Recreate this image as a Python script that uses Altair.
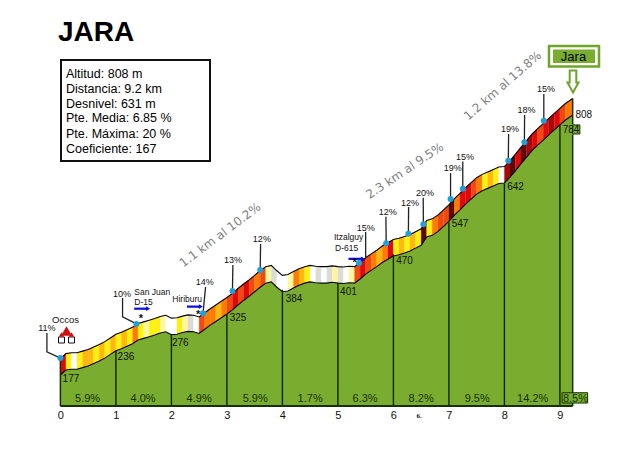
import altair as alt
import pandas as pd

# Altitude (m) at each 100 m, read from the profile
alt_km0 = [177, 189, 191, 191, 195, 199, 205, 211, 218, 227]
alt_km1 = [236, 241, 247, 253, 262, 266, 270, 274, 279, 282]
alt_km2 = [275, 276, 280, 283, 282, 278, 288, 298, 307, 316]
alt_km3 = [325, 335, 347, 358, 368, 379, 390, 400, 403, 390]
alt_km4 = [379, 381, 388, 395, 400, 403, 401, 400, 400, 402]
alt_km5 = [400, 399, 401, 400, 410, 422, 431, 440, 450, 458]
alt_km6 = [466, 469, 473, 478, 485, 492, 512, 516, 525, 537]
alt_km7 = [550, 565, 578, 592, 604, 616, 624, 630, 636, 642]
alt_km8 = [643, 657, 673, 690, 706, 722, 735, 747, 760, 772]
alt_km9 = [784, 796, 808]
altitudes = alt_km0 + alt_km1 + alt_km2 + alt_km3 + alt_km4 + alt_km5 + alt_km6 + alt_km7 + alt_km8 + alt_km9
distances = [round(i / 10, 1) for i in range(92)] + [9.23]

# Gradient colour class of each 100 m segment
seg_km0 = "E Y W Y L L Y L Y L".split()
seg_km1 = "Y L Y O Y P Y Y P W".split()
seg_km2 = "W Y P G W R O O L O".split()
seg_km3 = "R E R E R O R P G W".split()
seg_km4 = "W P O L Y W G W G P".split()
seg_km5 = "G W P R E R O L O E".split()
seg_km6 = "Y L Y L Y M Y O R R".split()
seg_km7 = "M O E E R O Y L Y W".split()
seg_km8 = "D M E M D E R E D E".split()
seg_km9 = "R O".split()
segments = seg_km0 + seg_km1 + seg_km2 + seg_km3 + seg_km4 + seg_km5 + seg_km6 + seg_km7 + seg_km8 + seg_km9
palette = {"W": "#ffffff", "G": "#dcdcd6", "P": "#fff6a0", "Y": "#fff010", "L": "#ffb810",
           "O": "#ff7c00", "R": "#f04a10", "E": "#e00808", "D": "#a80808", "M": "#5c0808"}

BASE = 101.8
BAND = 40
FONT = "Liberation Sans"

km_ticks = [0, 1, 2, 3, 4, 5, 6, 7, 8, 9]
km_alts = [177, 236, 276, 325, 384, 401, 470, 547, 642, 784, 808]
km_label_x = [0.04, 1.03, 2.01, 3.05, 4.06, 5.04, 6.05, 7.05, 8.05, 9.05, 9.28]
km_label_y = [167, 221, 255, 315, 361, 379, 454, 543, 633, 772, 808]

pct_labels = ["5.9%", "4.0%", "4.9%", "5.9%", "1.7%", "6.3%", "8.2%", "9.5%", "14.2%", "8.5%"]
pct_x = [0.49, 1.49, 2.50, 3.51, 4.50, 5.49, 6.50, 7.51, 8.51, 9.28]

pin_text = ["11%", "10%", "14%", "13%", "12%", "15%", "12%", "12%", "20%", "19%", "15%", "19%", "18%", "15%"]
pin_km = [0.0, 1.37, 2.57, 3.10, 3.60, 5.38, 5.87, 6.27, 6.54, 7.03, 7.25, 8.07, 8.36, 8.71]
pin_alt = [218, 301, 327, 381, 432, 449, 497, 520, 543, 604, 629, 697, 742, 794]
elbow_km = [-0.243, 1.12, None, None, None, 5.50, None, None, None, None, None, None, None, None]
elbow_alt = [233, 318, None, None, None, 461, None, None, None, None, None, None, None, None]
top_km = [-0.243, 1.12, 2.616, 3.108, 3.607, 5.50, 5.865, 6.274, 6.537, 7.03, 7.25, 8.076, 8.364, 8.71]
top_alt = [279, 364, 391, 444, 495, 524, 561, 585, 607, 667, 695, 762, 808, 859]
label_km = [-0.243, 1.11, 2.60, 3.108, 3.63, 5.50, 5.90, 6.30, 6.57, 7.07, 7.29, 8.10, 8.40, 8.75]
label_alt = [291, 374, 403, 456, 508, 534, 573, 595, 619, 679, 706, 774, 820, 871]

info_lines = ["Altitud: 808 m", "Distancia: 9.2 km", "Desnivel: 631 m",
              "Pte. Media: 6.85 %", "Pte. Máxima: 20 %", "Coeficiente: 167"]
info_y = [65.5, 80.5, 95.5, 110, 125.5, 141]

slopes = ["1.1 km al 10.2%", "2.3 km al 9.5%", "1.2 km al 13.8%"]
slope_x = [212, 396.7, 494.5]
slope_y = [227, 162.7, 77.7]
slope_angle = [323, 326, 319]

place_text = ["San Juan", "D-15", "Hiriburu", "Itzalguy", "D-615", "Occos"]
place_x = [126.3, 126.3, 164.3, 326, 327, 44]
place_y = [284, 294, 291, 229, 240, 312]
place_size = [8.5, 8.5, 8.5, 8.5, 8.5, 9.5]

arrow_km = [1.33, 2.28, 5.19]
arrow_end = [1.58, 2.53, 5.45]
arrow_alt = [338, 343, 459]
star_km = [1.45, 2.48, 5.30]
star_alt = [314, 323, 450]

xs = alt.Scale(domain=[-0.9441, 10.299], nice=False, zero=False)
ys = alt.Scale(domain=[BASE, 1067.8], nice=False, zero=False)
X = alt.X("km:Q", scale=xs, title=None,
          axis=alt.Axis(values=km_ticks, domain=False, ticks=False, grid=False, labelFontSize=11,
                        labelPadding=3, labelFont=FONT, labelColor="#111", format="d", title=None))
Y = alt.Y("alt:Q", scale=ys, title=None, axis=None, stack=None)

profile = pd.DataFrame({"km": distances, "alt": altitudes})
profile["top"] = profile["alt"] + BAND
profile["base"] = BASE

rows = []
for i, code in enumerate(segments):
    for j in (i, i + 1):
        rows.append({"km": distances[j], "alt": altitudes[j], "top": altitudes[j] + BAND,
                     "seg": i, "c": palette[code]})
band = pd.DataFrame(rows)

green = alt.Chart(profile).mark_area(color="#7aad2f").encode(x=X, y=Y, y2=alt.Y2("base:Q"))
seg_area = alt.Chart(band).mark_area(strokeWidth=0.2).encode(
    x=X, y=alt.Y("top:Q", scale=ys, axis=None, title=None, stack=None), y2=alt.Y2("alt:Q"),
    detail="seg:N", color=alt.Color("c:N", scale=None), stroke=alt.Color("c:N", scale=None))
line_bottom = alt.Chart(profile).mark_line(color="#000", strokeWidth=1.1).encode(x=X, y=Y)
line_top = alt.Chart(profile).mark_line(color="#000", strokeWidth=1.1).encode(
    x=X, y=alt.Y("top:Q", scale=ys, axis=None, title=None, stack=None))

rule_df = pd.DataFrame({"km": km_ticks[1:], "alt": km_alts[1:10], "base": BASE})
km_rules = alt.Chart(rule_df).mark_rule(color="#0c2604", strokeWidth=1.4).encode(x=X, y=Y, y2=alt.Y2("base:Q"))
edge_df = pd.DataFrame({"km": [0, 9.23], "alt": [217, 848], "base": BASE})
edges = alt.Chart(edge_df).mark_rule(color="#16300a", strokeWidth=1.5).encode(x=X, y=Y, y2=alt.Y2("base:Q"))
ground = alt.Chart(pd.DataFrame({"km": [0], "k2": [9.23], "alt": [BASE]})).mark_rule(
    color="#16300a", strokeWidth=2).encode(x=X, x2=alt.X2("k2:Q"), y=Y)

km_label_df = pd.DataFrame({"km": km_label_x, "alt": km_label_y, "t": km_alts})
patch_784 = alt.Chart(pd.DataFrame({"km": [9.14], "k2": [9.24], "alt": [786], "a2": [760]})).mark_rect(
    fill="#7aad2f").encode(x=X, x2=alt.X2("k2:Q"), y=Y, y2=alt.Y2("a2:Q"))
km_boxes = alt.Chart(pd.DataFrame({"km": [9.23, 9.04], "k2": [9.36, 9.50], "alt": [784, 134], "a2": [762, 109]})).mark_rect(
    fill="#7aad2f", stroke="#16300a", strokeWidth=1).encode(x=X, x2=alt.X2("k2:Q"), y=Y, y2=alt.Y2("a2:Q"))
km_text = alt.Chart(km_label_df).mark_text(align="left", baseline="middle", fontSize=10, font=FONT, color="#111").encode(
    x=X, y=Y, text="t:N")
pct_df = pd.DataFrame({"km": pct_x, "alt": 120.0, "t": pct_labels})
pct_text = alt.Chart(pct_df).mark_text(baseline="middle", fontSize=11, font=FONT, color="#16300a").encode(
    x=X, y=Y, text="t:N")

leader_rows = []
for i in range(len(pin_km)):
    leader_rows.append({"km": pin_km[i], "alt": pin_alt[i], "id": i, "o": 0})
    if elbow_km[i] is not None:
        leader_rows.append({"km": elbow_km[i], "alt": elbow_alt[i], "id": i, "o": 1})
    leader_rows.append({"km": top_km[i], "alt": top_alt[i], "id": i, "o": 2})
leaders = alt.Chart(pd.DataFrame(leader_rows)).mark_line(color="#222", strokeWidth=1.3).encode(
    x=alt.X("km:Q", scale=xs, title=None, sort=None), y=Y, detail="id:N", order="o:Q")
pins = alt.Chart(pd.DataFrame({"km": pin_km, "alt": pin_alt})).mark_point(
    filled=True, color="#1f9fdc", size=36, opacity=1).encode(x=X, y=Y)
pin_labels = alt.Chart(pd.DataFrame({"km": label_km, "alt": label_alt, "t": pin_text})).mark_text(
    baseline="middle", fontSize=9, font=FONT, color="#111").encode(x=X, y=Y, text="t:N")

arrow_lines = alt.Chart(pd.DataFrame({"km": arrow_km, "k2": arrow_end, "alt": arrow_alt})).mark_rule(
    color="#0a0ae0", strokeWidth=2.2).encode(x=X, x2=alt.X2("k2:Q"), y=Y)
arrow_heads = alt.Chart(pd.DataFrame({"km": arrow_end, "alt": arrow_alt})).mark_point(
    shape="triangle-right", filled=True, color="#0a0ae0", size=22, opacity=1).encode(x=X, y=Y)
stars = alt.Chart(pd.DataFrame({"km": star_km, "alt": star_alt, "t": ["*"] * 3})).mark_text(
    fontSize=11, font=FONT, fontWeight="bold", baseline="middle", color="#111").encode(x=X, y=Y, text="t:N")

layers = [green, seg_area, line_bottom, line_top, km_rules, edges, ground, patch_784, km_boxes, km_text, pct_text,
          leaders, pins, pin_labels, arrow_lines, arrow_heads, stars]


def tx(text, x, y, size, **kw):
    return alt.Chart(pd.DataFrame({"t": [text]})).mark_text(
        align=kw.pop("align", "left"), baseline="middle", fontSize=size, font=kw.pop("font", FONT),
        color=kw.pop("color", "#111"), **kw).encode(x=alt.value(x), y=alt.value(y), text="t:N")


def box(x, x2, y, y2, **kw):
    return alt.Chart(pd.DataFrame({"a": [0]})).mark_rect(**kw).encode(
        x=alt.value(x), x2=alt.value(x2), y=alt.value(y), y2=alt.value(y2))


def sym(x, y, **kw):
    return alt.Chart(pd.DataFrame({"a": [0]})).mark_point(opacity=1, **kw).encode(x=alt.value(x), y=alt.value(y))


layers.append(tx("JARA", 50, 25, 28, fontWeight="bold", color="#000"))
layers.append(box(53, 202, 52, 153, fill="#ffffff", stroke="#111", strokeWidth=2))
for line, y in zip(info_lines, info_y):
    layers.append(tx(line, 58, y, 12.5, color="#000"))
for s, x, y, a in zip(slopes, slope_x, slope_y, slope_angle):
    layers.append(tx(s, x, y, 12, align="center", angle=a, font="DejaVu Sans", color="#808080"))
for s, x, y, z in zip(place_text, place_x, place_y, place_size):
    layers.append(tx(s, x, y, z))
layers.append(tx("6.", 411, 407.5, 7, align="center", font="Liberation Serif", fontWeight="bold"))

# Occos icon
layers.append(sym(58.5, 323, shape="triangle-up", filled=True, color="#d01010", size=120))
layers.append(sym(53.5, 332, shape="square", filled=True, fill="#ffffff", stroke="#111", strokeWidth=1, size=36))
layers.append(sym(63.5, 332, shape="square", filled=True, fill="#ffffff", stroke="#111", strokeWidth=1, size=36))
layers.append(sym(53.5, 326.5, shape="triangle-up", filled=True, color="#d01010", size=30))
layers.append(sym(63.5, 326.5, shape="triangle-up", filled=True, color="#d01010", size=30))

# Summit marker
layers.append(box(541, 591, 38, 58.5, fill="#ffffff", stroke="#6fa52c", strokeWidth=2.5))
layers.append(box(545, 587, 41.5, 55, fill="#7aad2f"))
layers.append(tx("Jara", 565.5, 48.5, 13, align="center", color="#000"))
layers.append(sym(565, 73.5, shape="M-.3,-1L.3,-1L.3,.1L.5,.1L0,1L-.5,.1L-.3,.1Z", filled=True,
                  fill="#ffffff", stroke="#6fa52c", strokeWidth=2, size=484))

chart = alt.layer(*layers).properties(width=624, height=398, padding=0, background="#ffffff").configure_view(strokeWidth=0)
chart.save("out.html", embed_options={"renderer": "svg", "actions": False})
